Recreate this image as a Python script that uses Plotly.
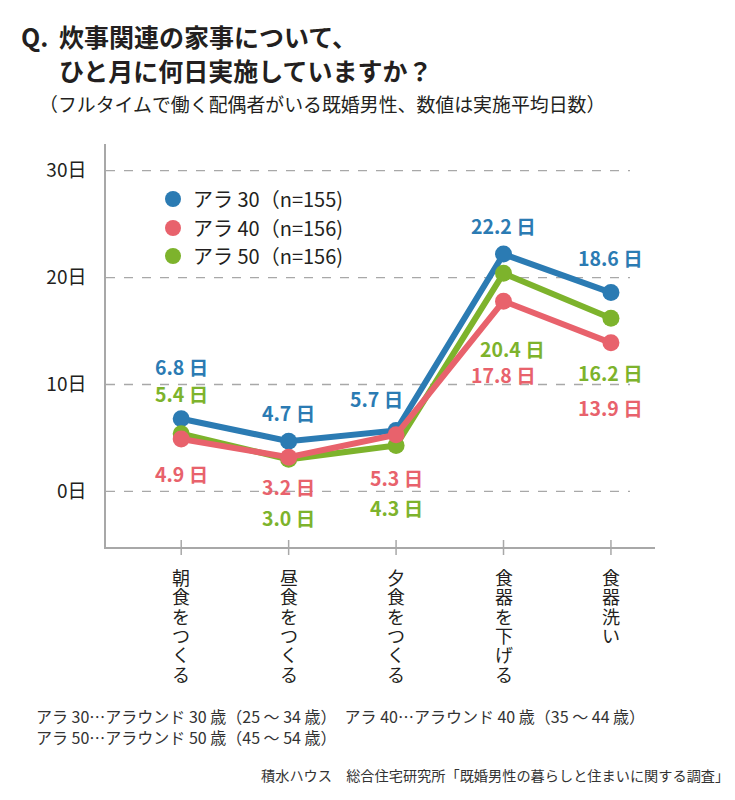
import plotly.graph_objects as go

categories = ["朝食をつくる", "昼食をつくる", "夕食をつくる", "食器を下げる", "食器洗い"]
series_names = ["アラ 30（n=155)", "アラ 40（n=156)", "アラ 50（n=156)"]
ara30 = [6.8, 4.7, 5.7, 22.2, 18.6]
ara40 = [4.9, 3.2, 5.3, 17.8, 13.9]
ara50 = [5.4, 3.0, 4.3, 20.4, 16.2]
y_ticks = [0, 10, 20, 30]
y_tick_labels = ["0日", "10日", "20日", "30日"]

BLUE = "#2b7bb3"
RED = "#e8626c"
GREEN = "#7db32c"
GRID = "#a8a8a8"
TEXT = "#231f20"
FONT = "Noto Sans CJK JP"

W, H = 735, 800
L, R, T, B = 106, 80, 144, 253
PW, PH = W - L - R, H - T - B


def px(x):
    return (x - L) / PW


def py(y):
    return (H - B - y) / PH


xs = list(range(len(categories)))
fig = go.Figure()

# draw order: blue, green, red (red on top)
series = [
    (series_names[0], ara30, BLUE),
    (series_names[2], ara50, GREEN),
    (series_names[1], ara40, RED),
]
for name, vals, col in series:
    fig.add_trace(go.Scatter(
        x=xs, y=vals, mode="lines+markers", name=name, showlegend=False,
        line=dict(color=col, width=6), marker=dict(color=col, size=17),
        hoverinfo="skip"))

# legend entries (marker only), each in its own legend box
legend_specs = [(series_names[0], BLUE, "legend"), (series_names[1], RED, "legend2"),
                (series_names[2], GREEN, "legend3")]
for name, col, lg in legend_specs:
    fig.add_trace(go.Scatter(x=[None], y=[None], mode="markers", name=name,
                             marker=dict(color=col, size=16), legend=lg, showlegend=True))

# data labels: (series values, color, per-point pixel offsets (dx, dy))
label_specs = [
    (ara30, BLUE, [(0, -52), (0, -29), (-20, -32), (0, -29), (0, -35)]),
    (ara40, RED, [(0, 34), (0, 29), (0, 43), (0, 73), (0, 65)]),
    (ara50, GREEN, [(0, -40), (0, 58), (0, 62), (9, 75), (0, 54)]),
]
annotations = []
for vals, col, offs in label_specs:
    for i, v in enumerate(vals):
        dx, dy = offs[i]
        annotations.append(dict(
            x=xs[i], y=v, xref="x", yref="y", text=f"<b>{v:.1f} 日</b>",
            showarrow=False, xshift=dx, yshift=-dy,
            font=dict(family=FONT, size=19.5, color=col)))

# vertical category labels (one character per row)
for i, cat in enumerate(categories):
    for k, ch in enumerate(cat):
        annotations.append(dict(
            x=xs[i], y=0, xref="x", yref="paper", text=ch, showarrow=False,
            xanchor="center", yanchor="middle", yshift=-(30 + k * 19.3),
            font=dict(family=FONT, size=18, color=TEXT)))

# titles and notes
annotations += [
    dict(x=px(19), y=py(36), xref="paper", yref="paper", xanchor="left", yanchor="middle",
         text="<b>Q.</b>", showarrow=False, font=dict(family=FONT, size=25, color=TEXT)),
    dict(x=px(57), y=py(36), xref="paper", yref="paper", xanchor="left", yanchor="middle",
         text="<b>炊事関連の家事について、</b>", showarrow=False,
         font=dict(family=FONT, size=25, color=TEXT)),
    dict(x=px(57), y=py(70), xref="paper", yref="paper", xanchor="left", yanchor="middle",
         text="<b>ひと月に何日実施していますか？</b>", showarrow=False,
         font=dict(family=FONT, size=25, color=TEXT)),
    dict(x=px(37), y=py(103), xref="paper", yref="paper", xanchor="left", yanchor="middle",
         text="（フルタイムで働く配偶者がいる既婚男性、数値は実施平均日数）", showarrow=False,
         font=dict(family=FONT, size=18.9, color=TEXT)),
    dict(x=px(34), y=py(716), xref="paper", yref="paper", xanchor="left", yanchor="middle",
         text="アラ 30…アラウンド 30 歳（25 ～ 34 歳）　アラ 40…アラウンド 40 歳（35 ～ 44 歳）",
         showarrow=False, font=dict(family=FONT, size=16, color="#333333")),
    dict(x=px(34), y=py(737), xref="paper", yref="paper", xanchor="left", yanchor="middle",
         text="アラ 50…アラウンド 50 歳（45 ～ 54 歳）",
         showarrow=False, font=dict(family=FONT, size=16, color="#333333")),
    dict(x=px(731), y=py(775), xref="paper", yref="paper", xanchor="right", yanchor="middle",
         text="積水ハウス　総合住宅研究所「既婚男性の暮らしと住まいに関する調査」",
         showarrow=False, font=dict(family=FONT, size=14.2, color="#333333")),
]

shapes = []
for yv in y_ticks:
    shapes.append(dict(type="line", xref="paper", yref="y", x0=0, x1=px(630), y0=yv, y1=yv,
                       line=dict(color=GRID, width=1.3, dash="dash"), layer="below"))
for xv in xs:
    shapes.append(dict(type="line", xref="x", yref="paper", x0=xv, x1=xv,
                       y0=-8 / PH, y1=7 / PH, line=dict(color=GRID, width=1.5)))

legend_base = dict(xref="paper", yref="paper", xanchor="left", yanchor="middle",
                   bgcolor="rgba(0,0,0,0)", font=dict(family=FONT, size=20, color=TEXT),
                   itemwidth=30, borderwidth=0)
fig.update_layout(
    width=W, height=H, autosize=False,
    margin=dict(l=L, r=R, t=T, b=B, pad=0),
    paper_bgcolor="white", plot_bgcolor="white",
    font=dict(family=FONT, color=TEXT),
    xaxis=dict(range=[-0.7, 4.41], tickvals=xs, ticktext=[""] * len(xs),
               ticks="", showline=True, linecolor=GRID, linewidth=1.5,
               showgrid=False, zeroline=False),
    yaxis=dict(range=[-5.2, 32.5], tickvals=y_ticks, ticktext=y_tick_labels,
               ticks="", showline=True, linecolor=GRID, linewidth=1.5,
               showgrid=False, zeroline=False, ticklabelstandoff=14,
               tickfont=dict(family=FONT, size=19, color=TEXT)),
    legend=dict(x=px(153), y=py(199), **legend_base),
    legend2=dict(x=px(153), y=py(228), **legend_base),
    legend3=dict(x=px(153), y=py(256), **legend_base),
    annotations=annotations,
    shapes=shapes,
)

fig.write_html("out.html", config={"displayModeBar": False},
               post_script="document.body.style.margin='0px';")
